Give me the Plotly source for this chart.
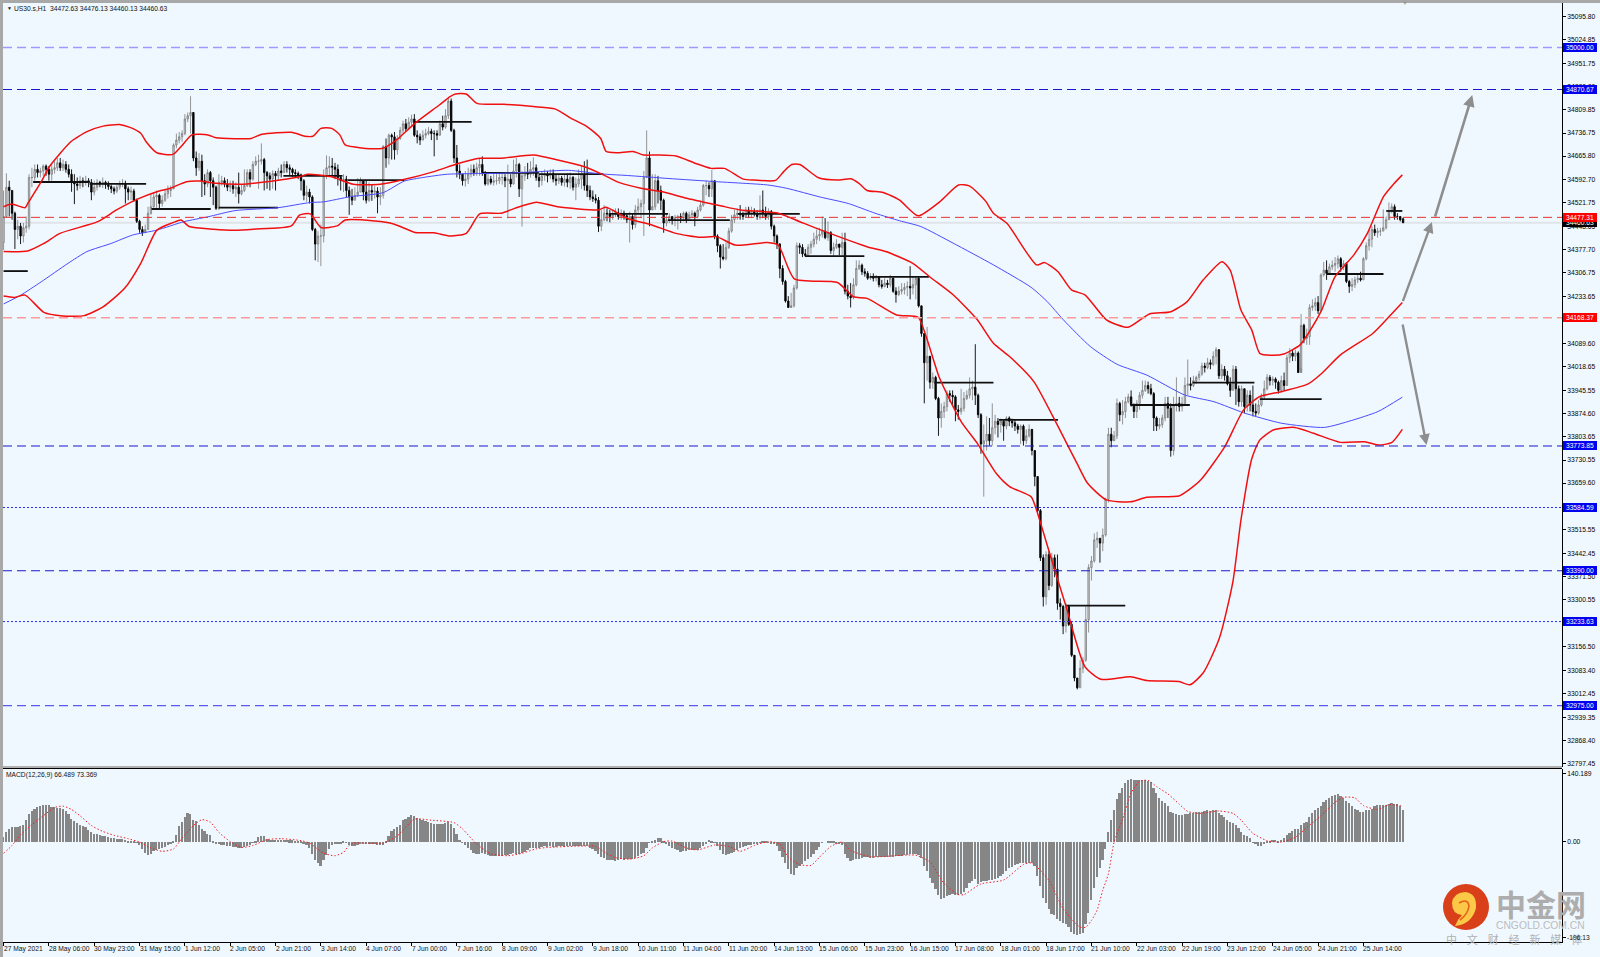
import plotly.graph_objects as go

# ---------- hourly bars ----------
closes = [
34480,34570,34560,34490,34440,34450,34420,34445,34450,34600,
34600,34625,34615,34620,34635,34625,34610,34625,34630,34645,
34630,34640,34625,34610,34585,34580,34575,34590,34585,34590,
34585,34555,34570,34585,34580,34585,34578,34572,34565,34558,
34570,34580,34582,34565,34555,34558,34530,34465,34440,34430,
34440,34490,34510,34540,34545,34520,34530,34550,34560,34565,
34700,34715,34725,34735,34780,34790,34800,34660,34630,34650,
34590,34580,34615,34590,34570,34505,34585,34590,34580,34570,
34575,34565,34570,34550,34560,34575,34615,34595,34640,34650,
34650,34655,34615,34605,34595,34612,34605,34620,34615,34640,
34630,34625,34615,34612,34608,34590,34545,34555,34540,34440,
34395,34420,34420,34605,34630,34635,34632,34625,34600,34590,
34595,34560,34540,34530,34545,34555,34590,34555,34530,34560,
34555,34558,34540,34545,34695,34660,34730,34725,34685,34720,
34745,34765,34750,34770,34780,34730,34725,34715,34730,34735,
34742,34735,34735,34730,34765,34755,34790,34835,34745,34660,
34620,34610,34590,34595,34610,34625,34615,34630,34640,34615,
34580,34595,34585,34590,34590,34600,34600,34590,34595,34580,
34620,34640,34565,34605,34615,34610,34625,34630,34600,34590,
34605,34610,34605,34612,34595,34590,34598,34585,34595,34585,
34600,34570,34580,34595,34610,34575,34560,34540,34535,34530,
34450,34470,34490,34488,34480,34485,34492,34480,34490,34482,
34470,34480,34455,34500,34510,34520,34600,34660,34500,34510,
34590,34560,34530,34460,34470,34480,34470,34475,34480,34475,
34490,34470,34485,34490,34480,34500,34515,34575,34575,34565,
34590,34420,34390,34355,34350,34385,34435,34470,34485,34490,
34485,34480,34500,34490,34495,34490,34480,34500,34490,34480,
34495,34450,34420,34395,34320,34280,34220,34200,34205,34260,
34390,34385,34365,34360,34385,34395,34410,34420,34425,34435,
34415,34430,34375,34385,34395,34385,34400,34250,34235,34230,
34270,34320,34330,34310,34305,34290,34295,34290,34295,34270,
34265,34275,34270,34290,34250,34240,34250,34255,34262,34265,
34260,34270,34290,34205,34120,34030,34050,33970,33985,33920,
33860,33880,33895,33935,33930,33925,33885,33880,33890,33920,
33930,33950,33955,33930,33870,33780,33790,33810,33790,33830,
33850,33840,33850,33835,33860,33850,33845,33835,33825,33835,
33790,33805,33825,33760,33680,33575,33430,33310,33440,33345,
33430,33395,33290,33280,33220,33280,33225,33130,33060,33030,
33090,33115,33240,33400,33420,33485,33490,33475,33500,33610,
33810,33790,33805,33905,33870,33880,33910,33925,33900,33880,
33905,33930,33945,33960,33950,33935,33860,33835,33840,33860,
33905,33890,33760,33900,33905,33895,33905,33960,33965,33960,
33975,33985,33995,34020,34015,34030,34025,34050,34070,33990,
34010,33990,33965,33945,34010,33950,33910,33950,33895,33930,
33900,33880,33875,33900,33925,33950,33985,33975,33980,33970,
33945,33975,33960,34045,34060,34050,34060,34000,34145,34105,
34110,34200,34205,34215,34190,34300,34315,34305,34325,34330,
34335,34350,34325,34335,34280,34265,34270,34285,34290,34285,
34350,34390,34410,34440,34430,34435,34435,34445,34470,34495,
34510,34480,34480,34470,34460.63]
highs = [
34560,34613,34590,34560,34495,34470,34460,34460,34480,34610,
34630,34640,34640,34630,34640,34640,34635,34640,34650,34660,
34660,34655,34650,34640,34625,34610,34600,34605,34600,34605,
34598,34595,34590,34595,34590,34600,34590,34588,34578,34572,
34578,34590,34595,34590,34572,34572,34565,34535,34470,34450,
34455,34510,34550,34555,34560,34550,34545,34565,34575,34575,
34705,34735,34740,34745,34795,34800,34850,34795,34680,34675,
34670,34610,34625,34620,34600,34575,34610,34605,34600,34595,
34590,34590,34585,34615,34580,34625,34625,34625,34650,34665,
34670,34705,34660,34620,34615,34622,34620,34630,34640,34650,
34650,34640,34630,34625,34618,34612,34595,34575,34565,34545,
34445,34435,34455,34625,34668,34665,34660,34645,34640,34605,
34610,34605,34572,34565,34570,34598,34600,34592,34590,34585,
34580,34575,34570,34570,34700,34720,34735,34735,34740,34730,
34755,34775,34780,34785,34793,34795,34745,34735,34745,34750,
34755,34750,34745,34745,34775,34790,34810,34843,34843,34750,
34700,34640,34610,34620,34630,34640,34640,34645,34660,34665,
34620,34615,34605,34610,34610,34615,34612,34610,34640,34610,
34655,34660,34645,34620,34635,34645,34650,34662,34640,34610,
34620,34625,34620,34625,34625,34610,34610,34605,34610,34612,
34615,34605,34600,34625,34635,34650,34655,34575,34560,34548,
34540,34500,34515,34505,34500,34498,34505,34505,34502,34498,
34490,34495,34490,34515,34535,34532,34620,34745,34680,34610,
34610,34605,34575,34535,34490,34490,34480,34485,34485,34490,
34495,34495,34495,34500,34495,34510,34525,34580,34590,34585,
34623,34585,34425,34395,34395,34400,34445,34485,34500,34505,
34515,34495,34510,34510,34510,34505,34500,34545,34560,34510,
34505,34500,34455,34425,34398,34330,34285,34235,34245,34270,
34400,34398,34395,34380,34395,34405,34430,34440,34445,34480,
34475,34465,34435,34400,34410,34395,34430,34430,34270,34275,
34290,34345,34345,34335,34320,34312,34305,34305,34300,34297,
34285,34290,34285,34300,34292,34262,34265,34275,34275,34280,
34327,34295,34295,34295,34205,34120,34140,34030,34000,33990,
33925,33905,33910,33945,33945,33945,33930,33900,33950,33940,
33945,33985,33975,34087,33935,33875,33840,33865,33860,33905,
33870,33860,33858,33855,33865,33865,33858,33855,33842,33840,
33840,33825,33840,33826,33760,33680,33580,33440,33450,33450,
33445,33440,33440,33305,33285,33290,33285,33235,33130,33060,
33115,33125,33280,33410,33435,33505,33510,33490,33520,33615,
33830,33830,33820,33920,33910,33915,33925,33935,33945,33905,
33915,33940,33975,33975,33972,33965,33940,33865,33860,33870,
33925,33925,33905,33925,33985,33925,33925,33985,34040,33985,
33990,33990,34005,34030,34030,34045,34040,34065,34078,34072,
34025,34020,34005,33985,34022,34020,33960,33960,33950,33945,
33945,33960,33905,33915,33935,33975,33995,33992,33988,33985,
33975,33990,34000,34055,34075,34070,34070,34065,34180,34150,
34135,34210,34225,34230,34235,34305,34340,34345,34335,34345,
34355,34360,34355,34345,34340,34285,34290,34295,34305,34310,
34355,34400,34440,34450,34455,34445,34445,34502,34480,34523,
34520,34517,34490,34480,34476.13]
lows = [
34377,34479,34480,34470,34380,34410,34395,34400,34430,34440,
34570,34590,34600,34600,34605,34605,34590,34590,34612,34620,
34620,34620,34615,34600,34556,34518,34560,34565,34570,34575,
34570,34530,34545,34560,34570,34568,34565,34562,34552,34548,
34552,34562,34570,34520,34530,34530,34525,34460,34430,34420,
34435,34440,34485,34500,34500,34505,34510,34525,34535,34540,
34572,34690,34705,34710,34730,34770,34735,34650,34605,34620,
34540,34545,34570,34540,34515,34500,34500,34575,34570,34558,
34555,34550,34540,34520,34545,34555,34570,34570,34590,34635,
34565,34640,34560,34565,34560,34565,34560,34590,34600,34615,
34615,34605,34602,34600,34595,34560,34530,34525,34520,34435,
34345,34340,34327,34400,34595,34605,34605,34595,34575,34560,
34555,34540,34485,34515,34530,34540,34555,34530,34520,34525,
34528,34535,34490,34515,34535,34630,34640,34655,34655,34670,
34715,34735,34740,34745,34755,34725,34705,34700,34715,34720,
34730,34715,34665,34715,34730,34745,34750,34780,34740,34645,
34600,34595,34575,34572,34580,34600,34605,34605,34605,34605,
34575,34575,34578,34575,34578,34580,34578,34570,34474,34570,
34578,34600,34540,34449,34590,34595,34600,34605,34590,34570,
34575,34590,34585,34595,34585,34575,34580,34575,34572,34570,
34565,34560,34530,34570,34565,34560,34540,34530,34525,34520,
34432,34435,34465,34465,34462,34470,34478,34470,34470,34470,
34460,34400,34440,34445,34485,34475,34420,34600,34450,34500,
34500,34520,34500,34430,34450,34460,34455,34450,34440,34460,
34465,34460,34470,34475,34450,34475,34495,34510,34545,34540,
34540,34410,34370,34320,34345,34345,34380,34430,34460,34470,
34470,34470,34485,34475,34475,34480,34470,34470,34475,34470,
34470,34440,34400,34380,34290,34270,34215,34200,34202,34200,
34255,34365,34355,34355,34360,34365,34385,34395,34405,34415,
34410,34405,34365,34355,34380,34360,34360,34240,34225,34200,
34225,34265,34315,34300,34295,34285,34285,34280,34280,34262,
34258,34262,34260,34262,34245,34215,34235,34240,34240,34235,
34225,34240,34225,34200,34110,33905,33975,33950,33950,33915,
33805,33830,33860,33880,33910,33900,33850,33855,33870,33880,
33915,33920,33915,33900,33860,33750,33618,33760,33775,33775,
33810,33800,33815,33790,33825,33835,33830,33820,33812,33780,
33775,33780,33800,33745,33650,33570,33420,33280,33285,33330,
33340,33370,33270,33240,33195,33200,33220,33125,33050,33025,
33030,33075,33110,33200,33360,33415,33460,33415,33450,33495,
33600,33770,33795,33795,33850,33840,33860,33905,33895,33860,
33860,33885,33920,33940,33935,33930,33820,33820,33825,33830,
33850,33860,33741,33745,33880,33880,33880,33900,33930,33945,
33955,33965,33975,33990,34000,34010,34010,34020,34025,33980,
33980,33975,33960,33925,33945,33900,33895,33895,33875,33880,
33880,33865,33865,33870,33895,33915,33945,33960,33960,33950,
33935,33940,33945,33960,34030,34035,34035,34002,34015,34090,
34085,34085,34190,34190,34180,34190,34295,34285,34300,34315,
34310,34320,34310,34315,34275,34245,34250,34260,34275,34280,
34285,34345,34375,34385,34420,34415,34420,34435,34440,34488,
34490,34470,34470,34465,34460.13]

# ---------- indicators: positions along the time axis, prices ----------
upper_at = [0,3,8,9,14,17,21,25,31,37,43,47,51,53,57,63,66,70,76,79,86,92,96,107,112,115,118,122,125,127,133,141,146,153,162,166,168,172,176,186,197,205,211,217,222,224,228,234,238,243,250,257,263,268,275,279,287,290,293,296,303,310,315,318,321,327,333,340,348,355,359,365,368,373,384,387,392,397,402,410,418,426,434,440,446,453,456,460,464,467,471,476,482,485,490,495,502,507,513,517,520]
upper_band = [34510,34518,34507,34520,34587,34633,34674,34710,34741,34758,34763,34754,34736,34710,34676,34671,34695,34731,34731,34722,34719,34720,34733,34739,34727,34727,34751,34751,34731,34700,34691,34690,34715,34767,34823,34849,34857,34857,34828,34825,34818,34811,34782,34756,34720,34680,34676,34680,34669,34669,34666,34644,34628,34628,34595,34592,34591,34618,34640,34640,34599,34592,34596,34582,34560,34554,34531,34482,34525,34577,34574,34528,34490,34459,34331,34338,34310,34254,34239,34162,34139,34180,34187,34218,34285,34341,34315,34192,34131,34059,34053,34057,34085,34120,34192,34295,34362,34428,34541,34582,34608]
middle_at = [0,9,15,21,35,42,50,57,62,68,73,79,88,98,110,113,122,130,140,148,160,169,177,185,197,206,216,223,229,237,245,254,267,274,288,296,304,321,328,338,345,353,362,368,374,383,392,399,403,410,419,425,437,440,445,454,461,467,475,485,490,497,509,514,520]
middle_band = [34372,34374,34397,34428,34464,34500,34534,34556,34567,34587,34589,34582,34579,34587,34602,34610,34602,34579,34579,34592,34618,34643,34659,34659,34669,34654,34633,34608,34584,34567,34556,34536,34512,34500,34490,34464,34438,34387,34372,34336,34290,34239,34162,34090,34049,33972,33834,33721,33659,33608,33602,33616,33620,33635,33669,33772,33885,33926,33941,33965,33997,34054,34120,34162,34215]
lower_at = [0,4,8,15,22,30,37,45,51,57,63,66,69,78,86,93,107,110,114,118,124,127,138,145,153,160,166,172,177,185,190,198,206,221,224,232,241,250,259,265,272,284,288,294,310,316,321,332,340,343,348,356,362,369,374,382,384,390,395,402,408,419,425,437,441,446,452,457,460,464,467,472,480,487,497,506,511,516,520]
lower_band = [34235,34231,34238,34185,34174,34175,34202,34259,34336,34438,34461,34469,34449,34441,34438,34441,34451,34484,34488,34446,34451,34469,34466,34457,34431,34430,34420,34428,34488,34490,34505,34524,34510,34500,34508,34474,34454,34428,34416,34418,34392,34400,34392,34288,34277,34233,34228,34177,34170,34110,33982,33849,33782,33690,33649,33618,33577,33413,33280,33095,33056,33064,33052,33049,33039,33076,33183,33356,33546,33734,33792,33823,33831,33813,33785,33787,33777,33784,33825]
ma_at = [0,6,14,24,31,40,48,57,67,76,86,102,114,119,129,141,149,156,165,185,197,210,222,232,247,265,284,291,304,314,324,333,341,353,368,382,388,394,404,414,425,439,450,461,475,491,501,511,520]
ma_line = [34211,34236,34279,34336,34372,34397,34423,34438,34464,34479,34498,34507,34523,34525,34541,34553,34589,34600,34610,34613,34617,34622,34611,34606,34597,34587,34577,34567,34539,34520,34490,34467,34449,34398,34331,34262,34218,34162,34080,34025,33992,33931,33910,33876,33844,33831,33852,33880,33924]

# daily pivot marks (from, to, price)
mark_from = [0,11,32,55,80,104,128,153,178,199,225,247,273,298,322,346,370,395,419,442,467,492,514]
mark_to   = [9,32,53,77,102,126,149,174,199,223,247,270,296,320,344,368,392,417,441,465,490,513,520]
mark_price = [34312,34586,34580,34503,34507,34605,34592,34771,34614,34610,34488,34469,34488,34358,34294,33969,33854,33283,33900,33969,33918,34303,34497]

# arrows (from position, from price, to position, to price)
arrow_from_at = [520,532,520]
arrow_from_px = [34215,34475,34152]
arrow_to_at = [531,546,529]
arrow_to_px = [34463,34854,33777]

# ---------- MACD ----------
macd_hist = [
10,20,27,31,32,32,33,35,45,57,
64,69,72,75,76,77,76,73,72,71,
70,68,64,57,48,44,40,36,33,31,
25,20,17,16,14,13,12,10,8,8,
7,7,6,5,3,2,1,-1,-6,-15,
-22,-26,-24,-18,-17,-14,-13,-10,-6,-3,
2,14,33,42,51,59,57,46,44,36,
26,23,17,14,2,-2,-3,-5,-6,-8,
-9,-10,-10,-12,-13,-10,-8,-5,-1,3,
10,12,12,7,5,5,5,5,5,5,
5,4,4,3,3,2,-2,-5,-12,-24,
-37,-42,-49,-36,-27,-15,-5,-4,-3,-2,
1,-1,-5,-7,-7,-5,-3,-3,-3,-3,
-3,-4,-5,-5,-5,2,12,23,27,31,
36,45,48,51,55,53,50,48,46,43,
41,39,38,38,37,38,39,42,38,29,
16,5,-1,-6,-13,-17,-22,-24,-24,-22,
-25,-27,-28,-29,-29,-29,-29,-27,-27,-25,
-23,-24,-24,-23,-20,-17,-13,-13,-13,-12,
-10,-9,-10,-9,-10,-10,-9,-9,-10,-9,
-9,-8,-9,-9,-8,-8,-8,-12,-15,-18,
-25,-31,-33,-36,-37,-37,-39,-36,-35,-36,
-35,-35,-35,-32,-29,-24,-22,-13,-1,2,
4,8,8,2,-2,-8,-13,-15,-17,-20,
-18,-18,-17,-17,-17,-16,-13,-9,-3,5,
3,-1,-8,-17,-24,-26,-24,-23,-20,-17,
-13,-10,-8,-5,-5,-4,-3,-1,2,2,
-1,-2,-3,-8,-18,-31,-42,-56,-65,-68,
-53,-49,-46,-39,-35,-31,-24,-17,-10,-1,
0,2,3,1,-2,-3,-5,-25,-32,-39,
-37,-35,-34,-33,-31,-30,-32,-33,-31,-31,
-30,-30,-30,-30,-30,-29,-29,-29,-27,-27,
-25,-24,-25,-27,-32,-49,-59,-73,-85,-97,
-109,-116,-114,-111,-109,-107,-109,-109,-106,-102,
-94,-85,-79,-76,-87,-81,-80,-79,-78,-77,
-76,-73,-70,-66,-59,-54,-51,-48,-46,-43,
-42,-42,-43,-43,-49,-70,-90,-115,-126,-138,
-147,-150,-158,-163,-166,-169,-174,-184,-188,-191,
-189,-186,-169,-146,-120,-94,-72,-54,-37,-14,
20,46,66,89,100,111,122,127,130,128,
127,127,128,128,125,124,111,101,91,84,
81,74,61,60,58,55,55,57,58,60,
60,61,61,62,64,65,64,65,66,60,
55,51,46,42,40,35,28,21,14,12,
8,-1,-3,-8,-8,-3,1,2,5,5,
3,5,8,14,18,23,26,27,35,40,
41,51,60,67,70,74,83,87,91,95,
96,98,95,91,85,81,74,69,65,61,
62,65,66,68,74,76,76,76,77,79,
81,79,79,74,66]
signal_at = [0,3,6,10,14,18,21,24,27,31,35,39,44,48,52,56,60,63,67,70,73,76,80,84,88,93,98,105,108,113,117,120,122,124,134,139,145,151,159,162,167,172,178,183,188,192,
205,209,213,216,221,226,229,233,236,241,245,251,256,260,265,270,274,277,281,285,288,292,296,299,306,322,327,332,337,339,345,353,360,363,369,374,380,382,384,386,388,390,392,395,398,401,404,407,411,415,418,422,429,434,437,441,446,451,456,460,465,470,473,477,480,485,489,494]
signal_line = [-24,-8,14,35,53,70,73,66,53,33,21,13,6,-1,-13,-20,-15,7,33,45,40,19,0,-12,-8,4,6,2,-3,-24,-29,-22,-8,-3,-3,12,46,44,39,26,-5,-25,-29,-24,-15,-12,
-9,-10,-25,-33,-36,-29,-13,0,1,-13,-17,-7,-10,-20,-8,0,-5,-32,-47,-49,-32,-10,-1,-18,-31,-28,-42,-86,-109,-109,-87,-79,-47,-44,-80,-138,-176,-176,-162,-141,-100,-66,-1,46,100,124,126,113,98,77,62,58,63,58,43,17,2,-1,9,29,53,81,91,90,74,66,76,73]

# ---------- levels, tags, labels ----------
level_price = [35000.00,34870.67,34477.31,34168.37,33773.85,33584.59,33390.00,33233.63,32975.00]
level_color = ["#9a9aff","#1818c8","#e83030","#ff9a9a","#1818c8","#2a2aff","#1818c8","#2a2aff","#5a5af0"]
level_dash = ["9px,5px","9px,5px","9px,5px","9px,5px","9px,5px","2px,2px","9px,5px","2px,2px","9px,5px"]
level_width = [1.5,1,1,1.6,1,1,1,1,1.2]
tag_price = [35000.00,34870.67,34460.63,34477.31,34168.37,33773.85,33584.59,33390.00,33233.63,32975.00]
tag_text = ["35000.00","34870.67","34460.63","34477.31","34168.37","33773.85","33584.59","33390.00","33233.63","32975.00"]
tag_color = ["#0000f0","#0000f0","#000000","#ff0000","#ff0000","#0000f0","#0000f0","#0000f0","#0000f0","#0000f0"]
price_ticks = [35095.80,35024.85,34951.75,34880.80,34809.85,34736.75,34665.80,34592.70,34521.75,34448.65,34377.70,34306.75,34233.65,34162.70,34089.60,34018.65,33945.55,33874.60,33803.65,33730.55,33659.60,33586.50,33515.55,33442.45,33371.50,33300.55,33227.45,33156.50,33083.40,33012.45,32939.35,32868.40,32797.45]
macd_ticks = [140.189,0.0]
macd_tick_text = ["140.189","0.00"]
macd_floor_tick = -196.13
time_labels = ["27 May 2021","28 May 06:00","30 May 23:00","31 May 15:00","1 Jun 12:00","2 Jun 05:00","2 Jun 21:00","3 Jun 14:00","4 Jun 07:00","7 Jun 00:00","7 Jun 16:00","8 Jun 09:00","9 Jun 02:00","9 Jun 18:00","10 Jun 11:00","11 Jun 04:00","11 Jun 20:00","14 Jun 13:00","15 Jun 06:00","15 Jun 23:00","16 Jun 15:00","17 Jun 08:00","18 Jun 01:00","18 Jun 17:00","21 Jun 10:00","22 Jun 03:00","22 Jun 19:00","23 Jun 12:00","24 Jun 05:00","24 Jun 21:00","25 Jun 14:00"]

n = min(len(closes), len(highs), len(lows), len(macd_hist))
bars = list(range(n))
opens = [closes[0] - 80] + closes[:n - 1]
opens[-1] = 34472.63
BAR_STEP = 0.9495          # sampling positions -> bar index
at = lambda seq: [v * BAR_STEP for v in seq]

L, R, T, B = 3, 1562, 3, 942
xp = lambda x: (x - L) / (R - L)
yp = lambda y: (B - y) / (B - T)
FONT = "Liberation Sans"
BG = "#f0f8ff"

fig = go.Figure()
fig.add_trace(go.Candlestick(x=bars, open=opens[:n], high=highs[:n], low=lows[:n], close=closes[:n],
    xaxis="x", yaxis="y", whiskerwidth=0, hoverinfo="skip", showlegend=False,
    increasing=dict(line=dict(color="#7a7a7a", width=0.8), fillcolor="#d4d4d4"),
    decreasing=dict(line=dict(color="#000000", width=0.9), fillcolor="#000000")))

seg_x, seg_y = [], []
for a, b, p in zip(mark_from, mark_to, mark_price):
    seg_x += [a * BAR_STEP, b * BAR_STEP, None]
    seg_y += [p, p, None]
fig.add_trace(go.Scatter(x=seg_x, y=seg_y, mode="lines", line=dict(color="#101010", width=1.8),
                         hoverinfo="skip", showlegend=False))
fig.add_trace(go.Scatter(x=at(ma_at), y=ma_line, mode="lines",
                         line=dict(color="#4a4aff", width=1, shape="spline", smoothing=0.6),
                         hoverinfo="skip", showlegend=False))
for xs, ys in ((upper_at, upper_band), (middle_at, middle_band), (lower_at, lower_band)):
    fig.add_trace(go.Scatter(x=at(xs), y=ys, mode="lines",
                             line=dict(color="#f01010", width=1.5, shape="spline", smoothing=0.6),
                             hoverinfo="skip", showlegend=False))

fig.add_trace(go.Bar(x=bars, y=macd_hist[:n], xaxis="x", yaxis="y2", width=0.62,
                     marker=dict(color="#868686", line=dict(width=0)), hoverinfo="skip", showlegend=False))
fig.add_trace(go.Scatter(x=signal_at, y=signal_line, xaxis="x", yaxis="y2", mode="lines",
                         line=dict(color="#f02020", width=1, dash="1.5px,2px", shape="spline", smoothing=0.6),
                         hoverinfo="skip", showlegend=False))

shapes = []
# bid line
shapes.append(dict(type="line", xref="paper", yref="y", x0=0, x1=1, y0=34460.63, y1=34460.63,
                   line=dict(color="#dfe4ea", width=2), layer="below"))
for p, c, d, w in zip(level_price, level_color, level_dash, level_width):
    shapes.append(dict(type="line", xref="paper", yref="y", x0=0, x1=1, y0=p, y1=p,
                       line=dict(color=c, width=w, dash=d)))
def curve(*pts):
    s = "M {} {}".format(xp(pts[0][0]), yp(pts[0][1]))
    for q, e in zip(pts[1::2], pts[2::2]):
        s += " Q {} {} {} {}".format(xp(q[0]), yp(q[1]), xp(e[0]), yp(e[1]))
    return s
# window chrome
shapes += [
    dict(type="rect", xref="paper", yref="paper", x0=xp(0), x1=xp(3), y0=yp(957), y1=yp(0),
         fillcolor="#a8a8a8", line=dict(width=0)),
    dict(type="rect", xref="paper", yref="paper", x0=xp(0), x1=xp(1600), y0=yp(3), y1=yp(0),
         fillcolor="#a8a8a8", line=dict(width=0)),
    dict(type="rect", xref="paper", yref="paper", x0=xp(3), x1=xp(1562), y0=yp(768), y1=yp(766),
         fillcolor="#b0b0b0", line=dict(width=0)),
    dict(type="line", xref="paper", yref="paper", x0=xp(3), x1=xp(1562), y0=yp(768.5), y1=yp(768.5),
         line=dict(color="#000", width=1)),
    # logo
    dict(type="circle", xref="paper", yref="paper", x0=xp(1443), x1=xp(1489), y0=yp(930), y1=yp(884),
         fillcolor="#d9401a", line=dict(width=0)),
    dict(type="path", xref="paper", yref="paper", fillcolor="#fbc947", line=dict(width=0),
         path=curve((1455, 926), (1472, 924), (1476, 908), (1477, 893), (1465, 892), (1453, 893), (1452, 903),
                    (1452, 914), (1462, 915), (1457, 920), (1455, 926)) + " Z"),
    dict(type="path", xref="paper", yref="paper", line=dict(color="#e8601c", width=1.6),
         path=curve((1459, 903), (1468, 898), (1469, 906), (1468, 914), (1460, 920))),
]

ann = []
def text(x, y, s, size=6.7, color="#111", anchor="left", family=FONT, xref="paper"):
    ann.append(dict(x=x, y=y, xref=xref, yref="paper", text=s, showarrow=False, xanchor=anchor, yanchor="middle",
                    borderpad=0, borderwidth=0, font=dict(family=family, size=size, color=color)))

text(xp(7), yp(8), "▼", size=5)
text(xp(14), yp(8), "US30.s,H1  34472.63 34476.13 34460.13 34460.63")
text(xp(6), yp(774.5), "MACD(12,26,9) 66.489 73.369")
text(xp(1405), yp(3), "▼", size=6, color="#999", anchor="center")
for k, s in enumerate(time_labels):
    text(k * 16, yp(948.5), s, xref="x")

# watermark
text(xp(1541), yp(903), "<b>中金网</b>", size=30, color="#adadad", anchor="center", family="Noto Sans CJK SC")
text(xp(1540), yp(925), "CNGOLD.COM.CN", size=10.3, color="#bcbcbc", anchor="center", family=FONT)
text(xp(1514), yp(938.5), "&nbsp;&nbsp;&nbsp;&nbsp;".join("中文财经新媒体"), size=11, color="#b0b0b0",
     anchor="center", family="Noto Sans CJK SC")
text(xp(1567), yp(937), f"{macd_floor_tick:.2f}")

for p, s, c in zip(tag_price, tag_text, tag_color):
    ann.append(dict(x=xp(1563), y=p, xref="paper", yref="y", text=s, showarrow=False, xanchor="left", yanchor="middle",
                    width=34, height=8.5, bgcolor=c, borderpad=0, borderwidth=0, align="center", valign="middle",
                    font=dict(family=FONT, size=6.7, color="#fff")))

for a0, p0, a1, p1, w in zip(arrow_from_at, arrow_from_px, arrow_to_at, arrow_to_px, [2.4, 2.6, 2.4]):
    ann.append(dict(x=a1 * BAR_STEP, y=p1, ax=a0 * BAR_STEP, ay=p0, xref="x", yref="y", axref="x", ayref="y",
                    text="", showarrow=True, arrowhead=2, arrowsize=0.9, arrowwidth=w, arrowcolor="#8e8e8e", standoff=0))

fig.update_layout(
    width=1600, height=957, autosize=False, bargap=0, barmode="overlay",
    margin=dict(l=L, r=1600 - R, t=T, b=957 - B, pad=0),
    paper_bgcolor=BG, plot_bgcolor=BG, showlegend=False,
    font=dict(family=FONT, size=6.7, color="#000"),
    shapes=shapes, annotations=ann,
    xaxis=dict(domain=[0, 1], range=[-0.2, 550.1], anchor="y2", showgrid=False, zeroline=False, rangeslider=dict(visible=False),
               tickmode="array", tickvals=[k * 16 for k in range(len(time_labels))], ticktext=[""] * len(time_labels),
               ticks="outside", ticklen=3, tickcolor="#000", tickwidth=1, showline=True, linecolor="#000", linewidth=1),
    yaxis=dict(domain=[(B - 767) / (B - T), 1], range=[32786.2, 35136.8], side="right", anchor="x", showgrid=False, zeroline=False,
               tickmode="array", tickvals=price_ticks, ticktext=[f"{v:.2f}" for v in price_ticks],
               ticks="outside", ticklen=3, tickcolor="#000", tickwidth=1, showline=True, linecolor="#000", linewidth=1,
               tickfont=dict(family=FONT, size=6.7)),
    yaxis2=dict(domain=[0, (B - 768.5) / (B - T)], range=[-206.4, 150.3], side="right", anchor="x", showgrid=False, zeroline=False,
                tickmode="array", tickvals=macd_ticks + [macd_floor_tick], ticktext=macd_tick_text + [""],
                ticks="outside", ticklen=3, tickcolor="#000", tickwidth=1, showline=True, linecolor="#000", linewidth=1,
                tickfont=dict(family=FONT, size=6.7)),
)

fig.write_html("out.html", config=dict(displayModeBar=False),
               post_script="document.body.style.margin='0';document.body.style.background='#f0f8ff';document.body.style.overflow='hidden';")
